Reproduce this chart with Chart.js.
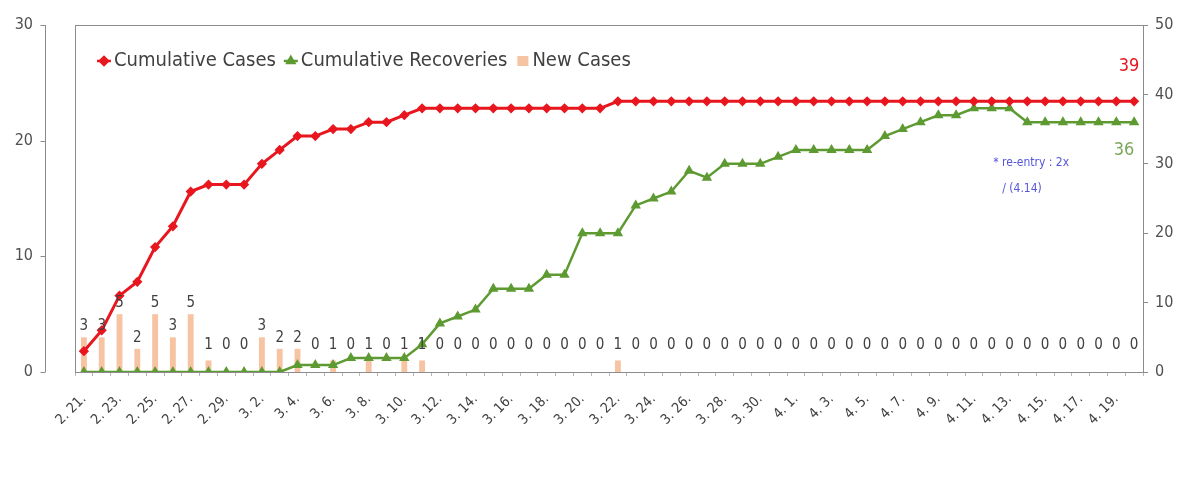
<!DOCTYPE html>
<html>
<head>
<meta charset="utf-8">
<title>Cumulative Cases</title>
<script src="https://cdn.jsdelivr.net/npm/chart.js@4.4.0/dist/chart.umd.min.js"></script>
<style>
  body { margin: 0; background: #fff; }
  #wrap { width: 1193px; height: 487px; }
</style>
</head>
<body>
<div id="wrap"><canvas id="context" width="1193" height="487"></canvas></div>
<script>
// dates 2.21 ~ 4.20
const dates = ["2. 21.","2. 22.","2. 23.","2. 24.","2. 25.","2. 26.","2. 27.","2. 28.","2. 29.",
  "3. 1.","3. 2.","3. 3.","3. 4.","3. 5.","3. 6.","3. 7.","3. 8.","3. 9.","3. 10.","3. 11.",
  "3. 12.","3. 13.","3. 14.","3. 15.","3. 16.","3. 17.","3. 18.","3. 19.","3. 20.","3. 21.",
  "3. 22.","3. 23.","3. 24.","3. 25.","3. 26.","3. 27.","3. 28.","3. 29.","3. 30.","3. 31.",
  "4. 1.","4. 2.","4. 3.","4. 4.","4. 5.","4. 6.","4. 7.","4. 8.","4. 9.","4. 10.",
  "4. 11.","4. 12.","4. 13.","4. 14.","4. 15.","4. 16.","4. 17.","4. 18.","4. 19.","4. 20."];

const newCases = [3,3,5,2,5,3,5,1,0,0, 3,2,2,0,1,0,1,0,1,1, 0,0,0,0,0,0,0,0,0,0,
  1,0,0,0,0,0,0,0,0,0, 0,0,0,0,0,0,0,0,0,0, 0,0,0,0,0,0,0,0,0,0];

const cumCases = [3,6,11,13,18,21,26,27,27,27, 30,32,34,34,35,35,36,36,37,38, 38,38,38,38,38,38,38,38,38,38,
  39,39,39,39,39,39,39,39,39,39, 39,39,39,39,39,39,39,39,39,39, 39,39,39,39,39,39,39,39,39,39];

const cumRecoveries = [0,0,0,0,0,0,0,0,0,0, 0,0,1,1,1,2,2,2,2,4, 7,8,9,12,12,12,14,14,20,20,
  20,24,25,26,29,28,30,30,30,31, 32,32,32,32,32,34,35,36,37,37, 38,38,38,36,36,36,36,36,36,36];

const leftTicks = [0,10,20,30];
const rightTicks = [0,10,20,30,40,50];

const fontName = "'Liberation Sans Narrow', 'DejaVu Sans Condensed', 'Arial Narrow', sans-serif";
const red = '#e8161e';
const green = '#5e9a32';
const peach = 'rgba(244,176,132,0.75)';

Chart.defaults.font.family = fontName;
Chart.defaults.color = '#404040';

// box around plot + the detached left axis line
const frame = {
  id: 'frame',
  beforeDatasetsDraw(chart) {
    let c = chart.ctx, a = chart.chartArea;
    c.save();
    c.strokeStyle = '#8c8c8c';
    c.lineWidth = 1;
    c.strokeRect(a.left + 0.5, a.top + 0.5, a.right - a.left, a.bottom - a.top);
    let lx = 45.5;
    c.beginPath();
    c.moveTo(lx, a.top);
    c.lineTo(lx, a.bottom);
    let ys = chart.scales.y;
    for (let i = 0; i < leftTicks.length; i++) {
      let py = Math.round(ys.getPixelForValue(leftTicks[i])) + 0.5;
      c.moveTo(lx - 5, py);
      c.lineTo(lx, py);
    }
    c.stroke();
    c.restore();
  }
};

// numbers over the bars and notes at the right end
const notes = {
  id: 'notes',
  afterDatasetsDraw(chart) {
    let c = chart.ctx;
    c.save();
    c.font = '15px ' + fontName;
    c.fillStyle = '#404040';
    c.textAlign = 'center';
    c.textBaseline = 'middle';
    let bars = chart.getDatasetMeta(2).data;
    for (let i = 0; i < bars.length; i++) {
      let y = Math.min(bars[i].y - 11, 345);
      c.fillText(String(newCases[i]), bars[i].x, y);
    }
    let last = cumCases.length - 1;
    let pr = chart.getDatasetMeta(0).data[last];
    let pg = chart.getDatasetMeta(1).data[last];
    c.font = '18px ' + fontName;
    c.fillStyle = red;
    c.fillText(String(cumCases[last]), pr.x - 5, pr.y - 35);
    c.fillStyle = '#7aa85a';
    c.fillText(String(cumRecoveries[last]), pg.x - 10, pg.y + 28);
    // re-entry note
    let pn = chart.getDatasetMeta(1).data[53];
    c.font = '12px ' + fontName;
    c.fillStyle = '#5555d8';
    c.textAlign = 'left';
    c.fillText('* re-entry : 2x', pn.x - 34, pn.y + 41);
    c.fillText('/ (4.14)', pn.x - 25, pn.y + 67);
    c.restore();
  }
};

// legend drawn inside the plot box
const innerLegend = {
  id: 'innerLegend',
  afterDraw(chart) {
    let c = chart.ctx, a = chart.chartArea;
    let x = a.left + 22, y = 61;
    c.save();
    c.font = '20px ' + fontName;
    c.textBaseline = 'middle';
    c.textAlign = 'left';
    chart.data.datasets.forEach(function(ds) {
      if (ds.type == 'line') {
        c.strokeStyle = ds.borderColor;
        c.lineWidth = 2.5;
        c.beginPath();
        c.moveTo(x, y);
        c.lineTo(x + 14, y);
        c.stroke();
        Chart.helpers.drawPoint(c, { pointStyle: ds.pointStyle, radius: 4, borderWidth: 1 }, x + 7, y);
        c.fillStyle = ds.borderColor;
        c.fill();
      } else {
        c.fillStyle = ds.backgroundColor;
        c.fillRect(x + 2, y - 5, 11, 10);
      }
      c.fillStyle = '#404040';
      c.fillText(ds.label, x + 17, y);
      x += 17 + c.measureText(ds.label).width + 8;
    });
    c.restore();
  }
};

const ctx = document.getElementById('context');
const cht = new Chart(ctx, {
  type: 'bar',
  data: {
    labels: dates,
    datasets: [
      { type: 'line', label: 'Cumulative Cases', data: cumCases, yAxisID: 'y1',
        borderColor: red, backgroundColor: red, borderWidth: 3, tension: 0,
        pointStyle: 'rectRot', pointRadius: 3, order: 1 },
      { type: 'line', label: 'Cumulative Recoveries', data: cumRecoveries, yAxisID: 'y1',
        borderColor: green, backgroundColor: green, borderWidth: 2.5, tension: 0,
        pointStyle: 'triangle', pointRadius: 3.5, order: 2 },
      { type: 'bar', label: 'New Cases', data: newCases, yAxisID: 'y',
        backgroundColor: peach, barPercentage: 0.33, categoryPercentage: 1, order: 3 }
    ]
  },
  options: {
    responsive: false,
    animation: false,
    layout: { padding: { top: 25, left: 0, right: 0, bottom: 0 } },
    plugins: { legend: { display: false }, tooltip: { enabled: false } },
    scales: {
      x: {
        offset: true,
        grid: { drawOnChartArea: false, tickLength: 4, color: '#b8b8b8' },
        border: { display: true, color: '#8c8c8c' },
        ticks: {
          autoSkip: false, maxRotation: 45, minRotation: 45, padding: 15,
          font: { size: 14 }, color: '#404040',
          callback: function(v, i) { return i % 2 == 0 ? dates[i] : ''; }
        },
        afterFit: function(s) { s.height = 115; }
      },
      y: {
        position: 'left', min: 0, max: 30,
        afterBuildTicks: function(s) { s.ticks = leftTicks.map(v => ({ value: v })); },
        ticks: { padding: 42, font: { size: 16 }, color: '#505050' },
        grid: { display: false, drawTicks: false },
        border: { display: false },
        afterFit: function(s) { s.width = 75; s.paddingTop = 0; s.paddingBottom = 0; }
      },
      y1: {
        position: 'right', min: 0, max: 50,
        afterBuildTicks: function(s) { s.ticks = rightTicks.map(v => ({ value: v })); },
        ticks: { padding: 7, font: { size: 16 }, color: '#505050' },
        grid: { drawOnChartArea: false, tickLength: 5, color: '#8c8c8c' },
        border: { display: true, color: '#8c8c8c' },
        afterFit: function(s) { s.width = 50; s.paddingTop = 0; s.paddingBottom = 0; }
      }
    }
  },
  plugins: [frame, notes, innerLegend]
});
</script>
</body>
</html>
